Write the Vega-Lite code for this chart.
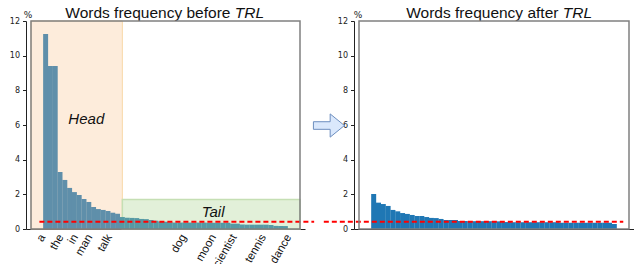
{
  "$schema": "https://vega.github.io/schema/vega-lite/v6.json",
  "padding": {"left": 9, "top": 6, "right": 0, "bottom": 0},
  "background": "white",
  "config": {
    "view": {"stroke": null},
    "axis": {"grid": false, "zindex": 1, "labelOverlap": false, "domainColor": "#222", "tickColor": "#222", "labelColor": "#222", "labelFont": "DejaVu Sans", "labelFontSize": 8, "tickSize": 3.5, "labelPadding": 3}
  },
  "datasets": {
    "before": [
      {"i": 0, "pct": 11.25}, {"i": 1, "pct": 9.4}, {"i": 2, "pct": 9.4}, {"i": 3, "pct": 3.29}, {"i": 4, "pct": 2.83},
      {"i": 5, "pct": 2.37}, {"i": 6, "pct": 2.13}, {"i": 7, "pct": 1.96}, {"i": 8, "pct": 1.73}, {"i": 9, "pct": 1.56},
      {"i": 10, "pct": 1.27}, {"i": 11, "pct": 1.15}, {"i": 12, "pct": 1.1}, {"i": 13, "pct": 1.04}, {"i": 14, "pct": 0.94},
      {"i": 15, "pct": 0.88}, {"i": 16, "pct": 0.69}, {"i": 17, "pct": 0.65}, {"i": 18, "pct": 0.64}, {"i": 19, "pct": 0.63},
      {"i": 20, "pct": 0.58}, {"i": 21, "pct": 0.57}, {"i": 22, "pct": 0.52}, {"i": 23, "pct": 0.48}, {"i": 24, "pct": 0.43},
      {"i": 25, "pct": 0.42}, {"i": 26, "pct": 0.38}, {"i": 27, "pct": 0.37}, {"i": 28, "pct": 0.37}, {"i": 29, "pct": 0.37},
      {"i": 30, "pct": 0.37}, {"i": 31, "pct": 0.37}, {"i": 32, "pct": 0.37}, {"i": 33, "pct": 0.37}, {"i": 34, "pct": 0.36},
      {"i": 35, "pct": 0.36}, {"i": 36, "pct": 0.36}, {"i": 37, "pct": 0.36}, {"i": 38, "pct": 0.36}, {"i": 39, "pct": 0.31},
      {"i": 40, "pct": 0.31}, {"i": 41, "pct": 0.26}, {"i": 42, "pct": 0.25}, {"i": 43, "pct": 0.25}, {"i": 44, "pct": 0.25},
      {"i": 45, "pct": 0.25}, {"i": 46, "pct": 0.25}, {"i": 47, "pct": 0.23}, {"i": 48, "pct": 0.18}, {"i": 49, "pct": 0.17},
      {"i": 50, "pct": 0.17}
    ],
    "after": [
      {"i": 0, "pct": 2.02}, {"i": 1, "pct": 1.52}, {"i": 2, "pct": 1.44}, {"i": 3, "pct": 1.33}, {"i": 4, "pct": 1.1},
      {"i": 5, "pct": 1.02}, {"i": 6, "pct": 0.92}, {"i": 7, "pct": 0.87}, {"i": 8, "pct": 0.81}, {"i": 9, "pct": 0.75},
      {"i": 10, "pct": 0.75}, {"i": 11, "pct": 0.69}, {"i": 12, "pct": 0.64}, {"i": 13, "pct": 0.63}, {"i": 14, "pct": 0.58},
      {"i": 15, "pct": 0.52}, {"i": 16, "pct": 0.52}, {"i": 17, "pct": 0.52}, {"i": 18, "pct": 0.46}, {"i": 19, "pct": 0.46},
      {"i": 20, "pct": 0.45}, {"i": 21, "pct": 0.45}, {"i": 22, "pct": 0.45}, {"i": 23, "pct": 0.45}, {"i": 24, "pct": 0.45},
      {"i": 25, "pct": 0.45}, {"i": 26, "pct": 0.44}, {"i": 27, "pct": 0.4}, {"i": 28, "pct": 0.4}, {"i": 29, "pct": 0.39},
      {"i": 30, "pct": 0.39}, {"i": 31, "pct": 0.39}, {"i": 32, "pct": 0.39}, {"i": 33, "pct": 0.39}, {"i": 34, "pct": 0.39},
      {"i": 35, "pct": 0.39}, {"i": 36, "pct": 0.39}, {"i": 37, "pct": 0.39}, {"i": 38, "pct": 0.39}, {"i": 39, "pct": 0.36},
      {"i": 40, "pct": 0.36}, {"i": 41, "pct": 0.36}, {"i": 42, "pct": 0.36}, {"i": 43, "pct": 0.36}, {"i": 44, "pct": 0.36},
      {"i": 45, "pct": 0.36}, {"i": 46, "pct": 0.36}, {"i": 47, "pct": 0.36}, {"i": 48, "pct": 0.36}, {"i": 49, "pct": 0.36},
      {"i": 50, "pct": 0.29}
    ]
  },
  "hconcat": [
    {
      "width": 279,
      "height": 208,
      "layer": [
        {
          "data": {"values": [{}]},
          "mark": {"type": "rect", "fill": "#fdecdb", "stroke": "#f8d9a8", "strokeWidth": 1},
          "encoding": {
            "x": {"datum": -3.05, "type": "quantitative", "scale": {"domain": [-3.05, 53.05], "nice": false, "zero": false},
              "axis": {"title": null, "values": [0, 3.8, 6.8, 9.8, 13.9, 29.4, 35.6, 39.9, 46, 51.3], "ticks": false, "tickSize": 0, "labelFlush": false, "labelOverlap": false, "labelAngle": -60, "labelAlign": "right", "labelBaseline": "middle", "labelFont": "Liberation Sans", "labelFontSize": 11.5, "labelColor": "#111", "labelPadding": 6, "labelOffset": -3, "labelExpr": "datum.value < 1 ? 'a' : datum.value < 5 ? 'the' : datum.value < 8 ? 'in' : datum.value < 11 ? 'man' : datum.value < 20 ? 'talk' : datum.value < 32 ? 'dog' : datum.value < 38 ? 'moon' : datum.value < 42 ? 'scientist' : datum.value < 48 ? 'tennis' : 'dance'"}},
            "x2": {"datum": 16},
            "y": {"datum": 0, "type": "quantitative", "scale": {"domain": [0, 12], "nice": false, "zero": false},
              "axis": {"values": [0, 2, 4, 6, 8, 10, 12], "labelOverlap": false, "title": "%", "titleAngle": 0, "titleX": 1.5, "titleY": -7, "titleAlign": "center", "titleBaseline": "middle", "titleFont": "DejaVu Sans", "titleFontSize": 9, "titleFontWeight": "normal", "titleColor": "#222"}},
            "y2": {"datum": 12}
          }
        },
        {
          "data": {"values": [{}]},
          "mark": {"type": "rect", "fill": "#e2f0d9", "stroke": "#c5dfb4", "strokeWidth": 1.5},
          "encoding": {
            "x": {"datum": 16, "type": "quantitative", "scale": {"domain": [-3.05, 53.05], "nice": false, "zero": false},
              "axis": {"title": null, "values": [0, 3.8, 6.8, 9.8, 13.9, 29.4, 35.6, 39.9, 46, 51.3], "ticks": false, "tickSize": 0, "labelFlush": false, "labelOverlap": false, "labelAngle": -60, "labelAlign": "right", "labelBaseline": "middle", "labelFont": "Liberation Sans", "labelFontSize": 11.5, "labelColor": "#111", "labelPadding": 6, "labelOffset": -3, "labelExpr": "datum.value < 1 ? 'a' : datum.value < 5 ? 'the' : datum.value < 8 ? 'in' : datum.value < 11 ? 'man' : datum.value < 20 ? 'talk' : datum.value < 32 ? 'dog' : datum.value < 38 ? 'moon' : datum.value < 42 ? 'scientist' : datum.value < 48 ? 'tennis' : 'dance'"}},
            "x2": {"datum": 53.05},
            "y": {"datum": 0, "type": "quantitative", "scale": {"domain": [0, 12], "nice": false, "zero": false},
              "axis": {"values": [0, 2, 4, 6, 8, 10, 12], "labelOverlap": false, "title": "%", "titleAngle": 0, "titleX": 1.5, "titleY": -7, "titleAlign": "center", "titleBaseline": "middle", "titleFont": "DejaVu Sans", "titleFontSize": 9, "titleFontWeight": "normal", "titleColor": "#222"}},
            "y2": {"datum": 1.7}
          }
        },
        {
          "data": {"name": "before"},
          "mark": {"type": "bar", "width": 4.98},
          "encoding": {
            "x": {"field": "i", "type": "quantitative", "scale": {"domain": [-3.05, 53.05], "nice": false, "zero": false},
              "axis": {"title": null, "values": [0, 3.8, 6.8, 9.8, 13.9, 29.4, 35.6, 39.9, 46, 51.3], "ticks": false, "tickSize": 0, "labelFlush": false, "labelOverlap": false, "labelAngle": -60, "labelAlign": "right", "labelBaseline": "middle", "labelFont": "Liberation Sans", "labelFontSize": 11.5, "labelColor": "#111", "labelPadding": 6, "labelOffset": -3, "labelExpr": "datum.value < 1 ? 'a' : datum.value < 5 ? 'the' : datum.value < 8 ? 'in' : datum.value < 11 ? 'man' : datum.value < 20 ? 'talk' : datum.value < 32 ? 'dog' : datum.value < 38 ? 'moon' : datum.value < 42 ? 'scientist' : datum.value < 48 ? 'tennis' : 'dance'"}},
            "y": {"field": "pct", "type": "quantitative", "scale": {"domain": [0, 12], "nice": false, "zero": false},
              "axis": {"values": [0, 2, 4, 6, 8, 10, 12], "labelOverlap": false, "title": "%", "titleAngle": 0, "titleX": 1.5, "titleY": -7, "titleAlign": "center", "titleBaseline": "middle", "titleFont": "DejaVu Sans", "titleFontSize": 9, "titleFontWeight": "normal", "titleColor": "#222"}},
            "color": {"condition": {"test": "datum.i >= 16", "value": "#5699a4"}, "value": "#5f8faa"}
          }
        },
        {
          "data": {"values": [{}]},
          "mark": {"type": "rule", "color": "#ff0000", "strokeWidth": 2, "strokeDash": [5, 3]},
          "encoding": {
            "x": {"datum": -1.3, "type": "quantitative", "scale": {"domain": [-3.05, 53.05], "nice": false, "zero": false},
              "axis": {"title": null, "values": [0, 3.8, 6.8, 9.8, 13.9, 29.4, 35.6, 39.9, 46, 51.3], "ticks": false, "tickSize": 0, "labelFlush": false, "labelOverlap": false, "labelAngle": -60, "labelAlign": "right", "labelBaseline": "middle", "labelFont": "Liberation Sans", "labelFontSize": 11.5, "labelColor": "#111", "labelPadding": 6, "labelOffset": -3, "labelExpr": "datum.value < 1 ? 'a' : datum.value < 5 ? 'the' : datum.value < 8 ? 'in' : datum.value < 11 ? 'man' : datum.value < 20 ? 'talk' : datum.value < 32 ? 'dog' : datum.value < 38 ? 'moon' : datum.value < 42 ? 'scientist' : datum.value < 48 ? 'tennis' : 'dance'"}},
            "x2": {"datum": 56.0},
            "y": {"datum": 0.42, "type": "quantitative", "scale": {"domain": [0, 12], "nice": false, "zero": false},
              "axis": {"values": [0, 2, 4, 6, 8, 10, 12], "labelOverlap": false, "title": "%", "titleAngle": 0, "titleX": 1.5, "titleY": -7, "titleAlign": "center", "titleBaseline": "middle", "titleFont": "DejaVu Sans", "titleFontSize": 9, "titleFontWeight": "normal", "titleColor": "#222"}}
          }
        },
        {
          "data": {"values": [{"label": "Head", "lx": 8.48, "ly": 6.06}, {"label": "Tail", "lx": 34.92, "ly": 0.71}]},
          "mark": {"type": "text", "font": "Liberation Sans", "fontStyle": "italic", "fontSize": 15, "align": "center", "baseline": "alphabetic", "color": "#111"},
          "encoding": {
            "text": {"field": "label"},
            "x": {"field": "lx", "type": "quantitative", "scale": {"domain": [-3.05, 53.05], "nice": false, "zero": false},
              "axis": {"title": null, "values": [0, 3.8, 6.8, 9.8, 13.9, 29.4, 35.6, 39.9, 46, 51.3], "ticks": false, "tickSize": 0, "labelFlush": false, "labelOverlap": false, "labelAngle": -60, "labelAlign": "right", "labelBaseline": "middle", "labelFont": "Liberation Sans", "labelFontSize": 11.5, "labelColor": "#111", "labelPadding": 6, "labelOffset": -3, "labelExpr": "datum.value < 1 ? 'a' : datum.value < 5 ? 'the' : datum.value < 8 ? 'in' : datum.value < 11 ? 'man' : datum.value < 20 ? 'talk' : datum.value < 32 ? 'dog' : datum.value < 38 ? 'moon' : datum.value < 42 ? 'scientist' : datum.value < 48 ? 'tennis' : 'dance'"}},
            "y": {"field": "ly", "type": "quantitative", "scale": {"domain": [0, 12], "nice": false, "zero": false},
              "axis": {"values": [0, 2, 4, 6, 8, 10, 12], "labelOverlap": false, "title": "%", "titleAngle": 0, "titleX": 1.5, "titleY": -7, "titleAlign": "center", "titleBaseline": "middle", "titleFont": "DejaVu Sans", "titleFontSize": 9, "titleFontWeight": "normal", "titleColor": "#222"}}
          }
        },
        {
          "data": {"values": [{"t": "Words frequency before"}]},
          "mark": {"type": "text", "font": "Liberation Sans", "fontSize": 15.5, "align": "right", "baseline": "alphabetic", "color": "#111"},
          "encoding": {
            "text": {"field": "t"},
            "x": {"datum": 38.54, "type": "quantitative", "scale": {"domain": [-3.05, 53.05], "nice": false, "zero": false},
              "axis": {"title": null, "values": [0, 3.8, 6.8, 9.8, 13.9, 29.4, 35.6, 39.9, 46, 51.3], "ticks": false, "tickSize": 0, "labelFlush": false, "labelOverlap": false, "labelAngle": -60, "labelAlign": "right", "labelBaseline": "middle", "labelFont": "Liberation Sans", "labelFontSize": 11.5, "labelColor": "#111", "labelPadding": 6, "labelOffset": -3, "labelExpr": "datum.value < 1 ? 'a' : datum.value < 5 ? 'the' : datum.value < 8 ? 'in' : datum.value < 11 ? 'man' : datum.value < 20 ? 'talk' : datum.value < 32 ? 'dog' : datum.value < 38 ? 'moon' : datum.value < 42 ? 'scientist' : datum.value < 48 ? 'tennis' : 'dance'"}},
            "y": {"datum": 12.16, "type": "quantitative", "scale": {"domain": [0, 12], "nice": false, "zero": false},
              "axis": {"values": [0, 2, 4, 6, 8, 10, 12], "labelOverlap": false, "title": "%", "titleAngle": 0, "titleX": 1.5, "titleY": -7, "titleAlign": "center", "titleBaseline": "middle", "titleFont": "DejaVu Sans", "titleFontSize": 9, "titleFontWeight": "normal", "titleColor": "#222"}}
          }
        },
        {
          "data": {"values": [{"t": "TRL"}]},
          "mark": {"type": "text", "font": "Liberation Sans", "fontStyle": "italic", "fontSize": 15.5, "align": "left", "baseline": "alphabetic", "dx": 4.3, "color": "#111"},
          "encoding": {
            "text": {"field": "t"},
            "x": {"datum": 38.54, "type": "quantitative", "scale": {"domain": [-3.05, 53.05], "nice": false, "zero": false},
              "axis": {"title": null, "values": [0, 3.8, 6.8, 9.8, 13.9, 29.4, 35.6, 39.9, 46, 51.3], "ticks": false, "tickSize": 0, "labelFlush": false, "labelOverlap": false, "labelAngle": -60, "labelAlign": "right", "labelBaseline": "middle", "labelFont": "Liberation Sans", "labelFontSize": 11.5, "labelColor": "#111", "labelPadding": 6, "labelOffset": -3, "labelExpr": "datum.value < 1 ? 'a' : datum.value < 5 ? 'the' : datum.value < 8 ? 'in' : datum.value < 11 ? 'man' : datum.value < 20 ? 'talk' : datum.value < 32 ? 'dog' : datum.value < 38 ? 'moon' : datum.value < 42 ? 'scientist' : datum.value < 48 ? 'tennis' : 'dance'"}},
            "y": {"datum": 12.16, "type": "quantitative", "scale": {"domain": [0, 12], "nice": false, "zero": false},
              "axis": {"values": [0, 2, 4, 6, 8, 10, 12], "labelOverlap": false, "title": "%", "titleAngle": 0, "titleX": 1.5, "titleY": -7, "titleAlign": "center", "titleBaseline": "middle", "titleFont": "DejaVu Sans", "titleFontSize": 9, "titleFontWeight": "normal", "titleColor": "#222"}}
          }
        },
        {
          "data": {"values": [{}]},
          "mark": {"type": "rect", "fill": null, "stroke": "#808080", "strokeWidth": 1.5},
          "encoding": {
            "x": {"datum": -3.05, "type": "quantitative", "scale": {"domain": [-3.05, 53.05], "nice": false, "zero": false},
              "axis": {"title": null, "values": [0, 3.8, 6.8, 9.8, 13.9, 29.4, 35.6, 39.9, 46, 51.3], "ticks": false, "tickSize": 0, "labelFlush": false, "labelOverlap": false, "labelAngle": -60, "labelAlign": "right", "labelBaseline": "middle", "labelFont": "Liberation Sans", "labelFontSize": 11.5, "labelColor": "#111", "labelPadding": 6, "labelOffset": -3, "labelExpr": "datum.value < 1 ? 'a' : datum.value < 5 ? 'the' : datum.value < 8 ? 'in' : datum.value < 11 ? 'man' : datum.value < 20 ? 'talk' : datum.value < 32 ? 'dog' : datum.value < 38 ? 'moon' : datum.value < 42 ? 'scientist' : datum.value < 48 ? 'tennis' : 'dance'"}},
            "x2": {"datum": 53.05},
            "y": {"datum": 0, "type": "quantitative", "scale": {"domain": [0, 12], "nice": false, "zero": false},
              "axis": {"values": [0, 2, 4, 6, 8, 10, 12], "labelOverlap": false, "title": "%", "titleAngle": 0, "titleX": 1.5, "titleY": -7, "titleAlign": "center", "titleBaseline": "middle", "titleFont": "DejaVu Sans", "titleFontSize": 9, "titleFontWeight": "normal", "titleColor": "#222"}},
            "y2": {"datum": 12}
          }
        }
      ]
    },
    {
      "width": 280,
      "height": 208,
      "layer": [
        {
          "data": {"name": "after"},
          "mark": {"type": "bar", "width": 5.0, "color": "#1f77b4"},
          "encoding": {
            "x": {"field": "i", "type": "quantitative", "scale": {"domain": [-3.05, 53.05], "nice": false, "zero": false}, "axis": {"title": null, "labels": false, "ticks": false}},
            "y": {"field": "pct", "type": "quantitative", "scale": {"domain": [0, 12], "nice": false, "zero": false},
              "axis": {"values": [0, 2, 4, 6, 8, 10, 12], "labelOverlap": false, "title": "%", "titleAngle": 0, "titleX": 3.5, "titleY": -7, "titleAlign": "center", "titleBaseline": "middle", "titleFont": "DejaVu Sans", "titleFontSize": 9, "titleFontWeight": "normal", "titleColor": "#222"}}
          }
        },
        {
          "data": {"values": [{}]},
          "mark": {"type": "rule", "color": "#ff0000", "strokeWidth": 2, "strokeDash": [5, 3]},
          "encoding": {
            "x": {"datum": -10.36, "type": "quantitative", "scale": {"domain": [-3.05, 53.05], "nice": false, "zero": false}, "axis": {"title": null, "labels": false, "ticks": false}},
            "x2": {"datum": 51.86},
            "y": {"datum": 0.42, "type": "quantitative", "scale": {"domain": [0, 12], "nice": false, "zero": false},
              "axis": {"values": [0, 2, 4, 6, 8, 10, 12], "labelOverlap": false, "title": "%", "titleAngle": 0, "titleX": 3.5, "titleY": -7, "titleAlign": "center", "titleBaseline": "middle", "titleFont": "DejaVu Sans", "titleFontSize": 9, "titleFontWeight": "normal", "titleColor": "#222"}}
          }
        },
        {
          "data": {"values": [{}]},
          "mark": {"type": "point", "shape": "M-1,-0.245L0.08,-0.245L0.08,-0.75L1,0L0.08,0.75L0.08,0.245L-1,0.245Z", "filled": true, "fill": "#dae8fc", "stroke": "#6c8ebf", "strokeWidth": 1, "size": 961, "opacity": 1},
          "encoding": {
            "x": {"datum": -9.3, "type": "quantitative", "scale": {"domain": [-3.05, 53.05], "nice": false, "zero": false}, "axis": {"title": null, "labels": false, "ticks": false}},
            "y": {"datum": 5.97, "type": "quantitative", "scale": {"domain": [0, 12], "nice": false, "zero": false},
              "axis": {"values": [0, 2, 4, 6, 8, 10, 12], "labelOverlap": false, "title": "%", "titleAngle": 0, "titleX": 3.5, "titleY": -7, "titleAlign": "center", "titleBaseline": "middle", "titleFont": "DejaVu Sans", "titleFontSize": 9, "titleFontWeight": "normal", "titleColor": "#222"}}
          }
        },
        {
          "data": {"values": [{"t": "Words frequency after"}]},
          "mark": {"type": "text", "font": "Liberation Sans", "fontSize": 15.5, "align": "right", "baseline": "alphabetic", "color": "#111"},
          "encoding": {
            "text": {"field": "t"},
            "x": {"datum": 38.39, "type": "quantitative", "scale": {"domain": [-3.05, 53.05], "nice": false, "zero": false}, "axis": {"title": null, "labels": false, "ticks": false}},
            "y": {"datum": 12.16, "type": "quantitative", "scale": {"domain": [0, 12], "nice": false, "zero": false},
              "axis": {"values": [0, 2, 4, 6, 8, 10, 12], "labelOverlap": false, "title": "%", "titleAngle": 0, "titleX": 3.5, "titleY": -7, "titleAlign": "center", "titleBaseline": "middle", "titleFont": "DejaVu Sans", "titleFontSize": 9, "titleFontWeight": "normal", "titleColor": "#222"}}
          }
        },
        {
          "data": {"values": [{"t": "TRL"}]},
          "mark": {"type": "text", "font": "Liberation Sans", "fontStyle": "italic", "fontSize": 15.5, "align": "left", "baseline": "alphabetic", "dx": 4.3, "color": "#111"},
          "encoding": {
            "text": {"field": "t"},
            "x": {"datum": 38.39, "type": "quantitative", "scale": {"domain": [-3.05, 53.05], "nice": false, "zero": false}, "axis": {"title": null, "labels": false, "ticks": false}},
            "y": {"datum": 12.16, "type": "quantitative", "scale": {"domain": [0, 12], "nice": false, "zero": false},
              "axis": {"values": [0, 2, 4, 6, 8, 10, 12], "labelOverlap": false, "title": "%", "titleAngle": 0, "titleX": 3.5, "titleY": -7, "titleAlign": "center", "titleBaseline": "middle", "titleFont": "DejaVu Sans", "titleFontSize": 9, "titleFontWeight": "normal", "titleColor": "#222"}}
          }
        },
        {
          "data": {"values": [{}]},
          "mark": {"type": "rect", "fill": null, "stroke": "#808080", "strokeWidth": 1.5},
          "encoding": {
            "x": {"datum": -3.05, "type": "quantitative", "scale": {"domain": [-3.05, 53.05], "nice": false, "zero": false}, "axis": {"title": null, "labels": false, "ticks": false}},
            "x2": {"datum": 53.05},
            "y": {"datum": 0, "type": "quantitative", "scale": {"domain": [0, 12], "nice": false, "zero": false},
              "axis": {"values": [0, 2, 4, 6, 8, 10, 12], "labelOverlap": false, "title": "%", "titleAngle": 0, "titleX": 3.5, "titleY": -7, "titleAlign": "center", "titleBaseline": "middle", "titleFont": "DejaVu Sans", "titleFontSize": 9, "titleFontWeight": "normal", "titleColor": "#222"}},
            "y2": {"datum": 12}
          }
        }
      ]
    }
  ],
  "spacing": 49,
  "bounds": "flush"
}
